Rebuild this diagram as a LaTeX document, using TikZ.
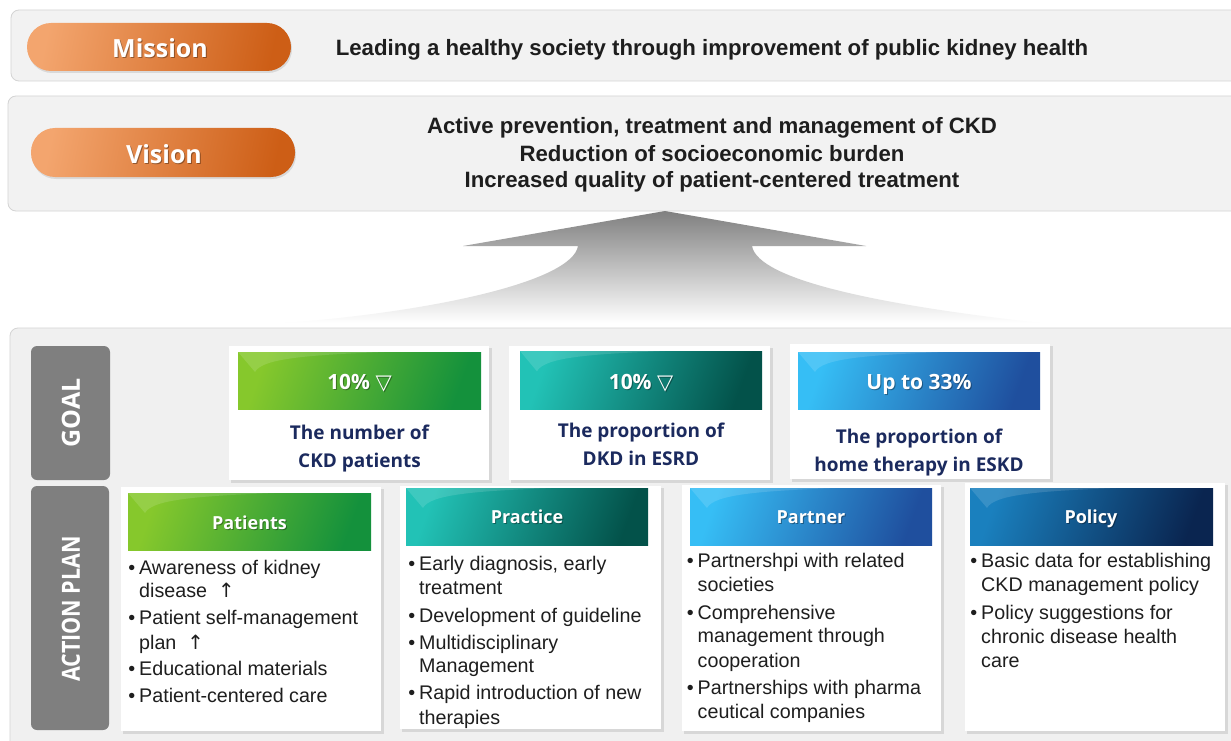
\documentclass[tikz,border=0pt]{standalone}
\usepackage{fontspec}
\setmainfont{Liberation Sans}
\newfontfamily\hdfont{Open Sans}
\newfontfamily\symfont{DejaVu Sans}

\definecolor{panelfill}{HTML}{F2F2F2}
\definecolor{panelline}{HTML}{D4D4D4}
\definecolor{lowfill}{HTML}{F0F0F0}
\definecolor{tabgray}{HTML}{7F7F7F}
\definecolor{navytext}{HTML}{1B2A5E}
\definecolor{bodyink}{HTML}{1E1E1E}
\definecolor{orA}{HTML}{F3A56E}
\definecolor{orB}{HTML}{EB7B2C}
\definecolor{orC}{HTML}{CD5E16}
\definecolor{grA}{HTML}{86C82C}
\definecolor{grB}{HTML}{47B034}
\definecolor{grC}{HTML}{14913C}
\definecolor{tlA}{HTML}{22C2B6}
\definecolor{tlB}{HTML}{0C9A90}
\definecolor{tlC}{HTML}{03524A}
\definecolor{blA}{HTML}{36BEF5}
\definecolor{blB}{HTML}{0D8BF0}
\definecolor{blC}{HTML}{1F4F9E}
\definecolor{nvA}{HTML}{1A80BE}
\definecolor{nvB}{HTML}{0E4F8A}
\definecolor{nvC}{HTML}{0A2550}

\tikzset{
  panel/.style={draw=panelline, fill=panelfill, line width=0.8pt, rounded corners=8pt},
  lowpanel/.style={draw=panelline, fill=lowfill, line width=0.8pt, rounded corners=8pt},
  pillbox/.style={left color=orA, middle color=orB, right color=orC, shading angle=78, rounded corners=24pt},
  tab/.style={fill=tabgray, rounded corners=6pt},
  cardbox/.style={fill=white},
  cardshade/.style={fill=black, opacity=0.10},
  gloss/.style={fill=white, opacity=0.13},
  pilltext/.style={text=white, font=\hdfont\bfseries\fontsize{25}{30}\selectfont, inner sep=0pt},
  headtext/.style={text=white, font=\hdfont\bfseries\fontsize{18}{22}\selectfont, inner sep=0pt, anchor=base},
  goaltext/.style={text=white, font=\hdfont\bfseries\fontsize{21}{24}\selectfont, inner sep=0pt, anchor=base},
  desctext/.style={text=navytext, font=\hdfont\bfseries\fontsize{19}{24}\selectfont, inner sep=0pt, anchor=base},
  tabtext/.style={text=white, font=\hdfont\bfseries\fontsize{25}{30}\selectfont, inner sep=0pt, rotate=90},
  statement/.style={text=bodyink, font=\bfseries\fontsize{22.2}{26}\selectfont, inner sep=0pt, anchor=base},
  bl/.style={text=bodyink, font=\fontsize{19.7}{24}\selectfont, inner sep=0pt, anchor=base west},
  shadowtxt/.style={text=black, opacity=0.35},
}

% bullet hung to the left of the item text
\newcommand\itm{\llap{•\hspace{4pt}}}

% glossy header bar: #1 x0, #2 y0, #3 x1, #4 y1, #5/#6/#7 colours
\newcommand\headerbar[7]{%
  \shade[left color=#5, middle color=#6, right color=#7, shading angle=70] (#1,#2) rectangle (#3,#4);
  \fill[gloss] (#1,#2) -- ({#1+0.6*(#3-#1)},#2) .. controls ({#1+0.3*(#3-#1)},{#2+3}) and ({#1+0.1*(#3-#1)},{#2+6}) .. ({#1+0.07*(#3-#1)},{#2+0.35*(#4-#2)}) -- cycle;
}
% white card with a soft shadow
\newcommand\card[4]{%
  \fill[cardshade] (#1+2,#2+2) rectangle (#3+3,#4+3);
  \fill[cardbox] (#1,#2) rectangle (#3,#4);
}

\begin{document}
\begin{tikzpicture}[x=1pt,y=-1pt]
\useasboundingbox (0,0) rectangle (1231,741);
\fill[white] (0,0) rectangle (1231,741);

% ---- Mission ----
\draw[panel] (11,10) rectangle (1245,81);
\fill[black, opacity=0.10, rounded corners=24pt] (28,25) rectangle (292,73);
\shade[pillbox] (27,23) rectangle (291,71);
\node[pilltext, shadowtxt] at (161,49) {Mission};
\node[pilltext] (mission) at (160,48) {Mission};
\node[statement] (missiontxt) at (712,56) {Leading a healthy society through improvement of public kidney health};

% ---- Vision ----
\draw[panel] (8,96) rectangle (1245,211);
\fill[black, opacity=0.10, rounded corners=24pt] (32,130) rectangle (296,179);
\shade[pillbox] (31,128) rectangle (295,177);
\node[pilltext, shadowtxt] at (165,155) {Vision};
\node[pilltext] (vision) at (164,154) {Vision};
\node[statement] (v1) at (712,134) {Active prevention, treatment and management of CKD};
\node[statement] (v2) at (712,161) {Reduction of socioeconomic burden};
\node[statement] (v3) at (712,187) {Increased quality of patient-centered treatment};

% ---- big upward arrow ----
\shade[top color=black!50, bottom color=white]
  (665,211) -- (463,246) -- (578,246)
  .. controls (572,282) and (430,312) .. (285,323)
  -- (1040,323)
  .. controls (880,305) and (758,280) .. (752,246)
  -- (866,246) -- cycle;

% ---- lower panel ----
\draw[lowpanel] (10,328) rectangle (1245,760);

\fill[tab] (31,346) rectangle (110,480);
\node[tabtext] (goal) at (71,413) {GOAL};
\fill[tab] (31,486) rectangle (109,730);
\node[tabtext] (actionplan) at (71,609) {\scalebox{0.86}[1]{ACTION PLAN}};

% ---- goal cards ----
\card{229}{346}{489}{480}
\headerbar{238}{352}{481}{409}{grA}{grB}{grC}
\node[goaltext, shadowtxt] at (360.5,390.5) {10\% {\symfont ▽}};
\node[goaltext] (g1h) at (359.5,389.5) {10\% {\symfont ▽}};
\node[desctext] (g1a) at (359.5,439) {The number of};
\node[desctext] (g1b) at (359.5,467) {CKD patients};

\card{509}{346}{770}{480}
\headerbar{520}{351}{762}{409}{tlA}{tlB}{tlC}
\node[goaltext, shadowtxt] at (642,390.5) {10\% {\symfont ▽}};
\node[goaltext] (g2h) at (641,389.5) {10\% {\symfont ▽}};
\node[desctext] (g2a) at (641,437) {The proportion of};
\node[desctext] (g2b) at (641,465) {DKD in ESRD};

\card{790}{344}{1050}{479}
\headerbar{798}{352}{1040}{409}{blA}{blB}{blC}
\node[goaltext, shadowtxt] at (920,390.5) {Up to 33\%};
\node[goaltext] (g3h) at (919,389.5) {Up to 33\%};
\node[desctext] (g3a) at (919,443) {The proportion of};
\node[desctext] (g3b) at (919,471) {home therapy in ESKD};

% ---- action plan cards ----
\card{121}{487}{381}{731}
\headerbar{128}{493}{371}{550}{grA}{grB}{grC}
\node[headtext, shadowtxt] at (250.5,530) {Patients};
\node[headtext] (a1h) at (249.5,529) {Patients};
\node[bl] (a1l1) at (139,574) {\itm Awareness of kidney};
\node[bl] (a1l2) at (139,597) {disease~~{\symfont ↑}};
\node[bl] (a1l3) at (139,624) {\itm Patient self-management};
\node[bl] (a1l4) at (139,649) {plan~~{\symfont ↑}};
\node[bl] (a1l5) at (139,675) {\itm Educational materials};
\node[bl] (a1l6) at (139,702) {\itm Patient-centered care};

\card{400}{486}{661}{729}
\headerbar{406}{488}{648}{545}{tlA}{tlB}{tlC}
\node[headtext, shadowtxt] at (528,524.5) {Practice};
\node[headtext] (a2h) at (527,523.5) {Practice};
\node[bl] (a2l1) at (419,570) {\itm Early diagnosis, early};
\node[bl] (a2l2) at (419,594) {treatment};
\node[bl] (a2l3) at (419,622) {\itm Development of guideline};
\node[bl] (a2l4) at (419,649) {\itm Multidisciplinary};
\node[bl] (a2l5) at (419,672) {Management};
\node[bl] (a2l6) at (419,699) {\itm Rapid introduction of new};
\node[bl] (a2l7) at (419,724) {therapies};

\card{682}{485}{941}{731}
\headerbar{690}{488}{932}{545}{blA}{blB}{blC}
\node[headtext, shadowtxt] at (812,524.5) {Partner};
\node[headtext] (a3h) at (811,523.5) {Partner};
\node[bl] (a3l1) at (697.5,567) {\itm Partnershpi with related};
\node[bl] (a3l2) at (697.5,591) {societies};
\node[bl] (a3l3) at (697.5,619) {\itm Comprehensive};
\node[bl] (a3l4) at (697.5,642) {management through};
\node[bl] (a3l5) at (697.5,667) {cooperation};
\node[bl] (a3l6) at (697.5,694) {\itm Partnerships with pharma};
\node[bl] (a3l7) at (697.5,718) {ceutical companies};

\card{965}{483}{1225}{731}
\headerbar{970}{488}{1213}{545}{nvA}{nvB}{nvC}
\node[headtext, shadowtxt] at (1092,524.5) {Policy};
\node[headtext] (a4h) at (1091,523.5) {Policy};
\node[bl] (a4l1) at (981,567) {\itm Basic data for establishing};
\node[bl] (a4l2) at (981,591) {CKD management policy};
\node[bl] (a4l3) at (981,619) {\itm Policy suggestions for};
\node[bl] (a4l4) at (981,643) {chronic disease health};
\node[bl] (a4l5) at (981,667) {care};
\end{tikzpicture}
\end{document}
